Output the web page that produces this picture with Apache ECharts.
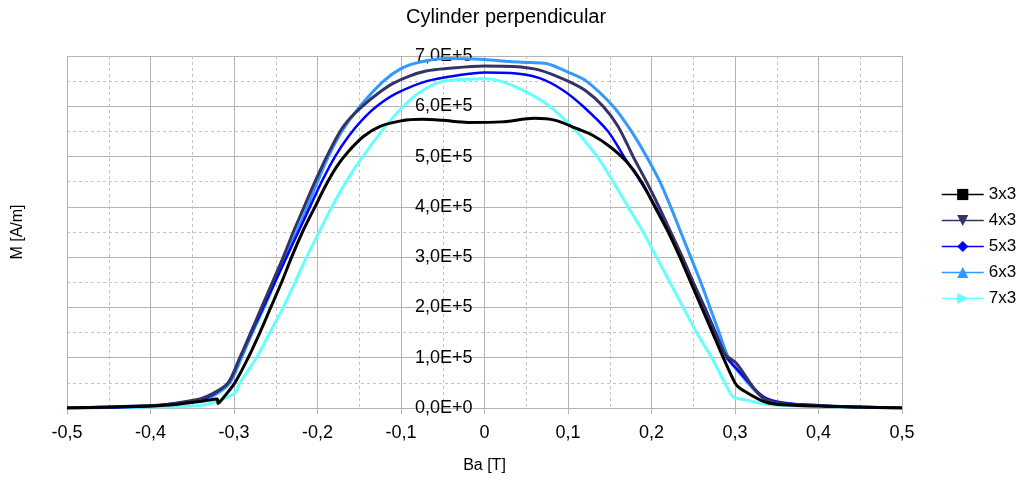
<!DOCTYPE html>
<html>
<head>
<meta charset="utf-8">
<script src="https://cdn.jsdelivr.net/npm/echarts@6/dist/echarts.min.js"></script>
<style>
html,body{margin:0;padding:0;background:#fff;}
#c{width:1024px;height:484px;}
</style>
</head>
<body>
<div id="c"></div>
<script>
// ---- data (Ba in T, M in A/m) ----
var seriesNames = ['3x3', '4x3', '5x3', '6x3', '7x3'];
var seriesColors = ['#000000', '#333366', '#0000ff', '#3399ff', '#66ffff'];

var ba3x3 = [-0.5,-0.45,-0.4,-0.37,-0.34,-0.32,-0.319,-0.313,-0.299,-0.283,-0.269,-0.256,-0.243,-0.231,-0.218,-0.203,-0.19,-0.177,-0.163,-0.145,-0.125,-0.1,-0.075,-0.05,-0.02,0.02,0.06,0.085,0.11,0.13,0.15,0.17,0.188,0.204,0.22,0.234,0.247,0.26,0.273,0.286,0.3,0.306,0.34,0.4,0.45,0.5];
var m3x3  = [0,0.02e5,0.04e5,0.07e5,0.13e5,0.18e5,0.09e5,0.2e5,0.5e5,1.0e5,1.5e5,2.0e5,2.5e5,3.0e5,3.5e5,4.0e5,4.43e5,4.8e5,5.1e5,5.4e5,5.6e5,5.71e5,5.74e5,5.72e5,5.68e5,5.69e5,5.76e5,5.72e5,5.56e5,5.42e5,5.2e5,4.9e5,4.5e5,4.0e5,3.5e5,3.0e5,2.5e5,2.0e5,1.5e5,1.0e5,0.5e5,0.39e5,0.1e5,0.04e5,0.02e5,0];

var ba4x3 = [-0.5,-0.45,-0.4,-0.381,-0.341,-0.325,-0.307,-0.293,-0.28,-0.267,-0.254,-0.241,-0.229,-0.216,-0.203,-0.189,-0.173,-0.16,-0.145,-0.128,-0.11,-0.09,-0.07,-0.045,0,0.034,0.066,0.1,0.122,0.142,0.16,0.178,0.194,0.209,0.223,0.237,0.25,0.263,0.276,0.289,0.301,0.338,0.4,0.45,0.5];
var m4x3  = [0,0.02e5,0.05e5,0.07e5,0.18e5,0.29e5,0.5e5,1.0e5,1.5e5,2.0e5,2.5e5,3.0e5,3.5e5,4.0e5,4.5e5,5.0e5,5.5e5,5.78e5,6.02e5,6.25e5,6.45e5,6.6e5,6.7e5,6.75e5,6.8e5,6.79e5,6.72e5,6.5e5,6.3e5,6.0e5,5.6e5,5.0e5,4.5e5,4.0e5,3.5e5,3.0e5,2.5e5,2.0e5,1.5e5,1.05e5,0.9e5,0.16e5,0.05e5,0.02e5,0];

var ba5x3 = [-0.5,-0.4,-0.341,-0.325,-0.307,-0.293,-0.279,-0.265,-0.251,-0.237,-0.223,-0.209,-0.195,-0.179,-0.163,-0.147,-0.129,-0.105,-0.069,-0.03,0,0.031,0.066,0.094,0.118,0.148,0.167,0.187,0.205,0.221,0.236,0.25,0.264,0.277,0.29,0.3,0.338,0.4,0.5];
var m5x3  = [0,0.04e5,0.17e5,0.27e5,0.5e5,1.0e5,1.5e5,2.0e5,2.5e5,3.0e5,3.5e5,4.0e5,4.5e5,5.0e5,5.4e5,5.72e5,6.0e5,6.26e5,6.5e5,6.62e5,6.67e5,6.66e5,6.56e5,6.32e5,6.0e5,5.5e5,5.0e5,4.5e5,4.0e5,3.5e5,3.0e5,2.5e5,2.0e5,1.5e5,1.0e5,0.82e5,0.19e5,0.05e5,0];

var ba6x3 = [-0.5,-0.4,-0.341,-0.323,-0.305,-0.291,-0.278,-0.264,-0.251,-0.238,-0.225,-0.212,-0.2,-0.187,-0.171,-0.149,-0.121,-0.1,-0.077,-0.045,0,0.03,0.055,0.074,0.1,0.122,0.154,0.176,0.194,0.21,0.223,0.235,0.247,0.259,0.27,0.281,0.292,0.304,0.34,0.4,0.5];
var m6x3  = [0,0.04e5,0.16e5,0.26e5,0.5e5,1.0e5,1.5e5,2.0e5,2.5e5,3.0e5,3.5e5,4.0e5,4.5e5,5.0e5,5.5e5,6.0e5,6.5e5,6.75e5,6.88e5,6.95e5,6.93e5,6.89e5,6.87e5,6.85e5,6.68e5,6.5e5,6.0e5,5.5e5,5.0e5,4.5e5,4.0e5,3.5e5,3.0e5,2.5e5,2.0e5,1.5e5,1.0e5,0.72e5,0.15e5,0.05e5,0];

var ba7x3 = [-0.5,-0.4,-0.341,-0.3,-0.293,-0.273,-0.257,-0.241,-0.227,-0.213,-0.201,-0.185,-0.17,-0.155,-0.137,-0.121,-0.1,-0.08,-0.053,-0.02,0,0.019,0.046,0.078,0.11,0.126,0.138,0.154,0.172,0.19,0.206,0.222,0.238,0.254,0.272,0.288,0.298,0.31,0.34,0.4,0.5];
var m7x3  = [0,0.02e5,0.05e5,0.28e5,0.5e5,1.0e5,1.5e5,2.0e5,2.5e5,3.0e5,3.4e5,3.93e5,4.38e5,4.78e5,5.2e5,5.55e5,5.95e5,6.25e5,6.48e5,6.54e5,6.55e5,6.5e5,6.32e5,6.0e5,5.5e5,5.19e5,4.93e5,4.5e5,4.0e5,3.5e5,3.0e5,2.5e5,2.0e5,1.5e5,1.0e5,0.5e5,0.22e5,0.17e5,0.07e5,0.03e5,0];

var xTickValues = [-0.5,-0.4,-0.3,-0.2,-0.1,0,0.1,0.2,0.3,0.4,0.5];
var xTickLabels = ['-0,5','-0,4','-0,3','-0,2','-0,1','0','0,1','0,2','0,3','0,4','0,5'];
var yTickValues = [0,1e5,2e5,3e5,4e5,5e5,6e5,7e5];
var yTickLabels = ['0,0E+0','1,0E+5','2,0E+5','3,0E+5','4,0E+5','5,0E+5','6,0E+5','7,0E+5'];

var baData = [ba3x3, ba4x3, ba5x3, ba6x3, ba7x3];
var mData = [m3x3, m4x3, m5x3, m6x3, m7x3];
var symbols = [
  'rect',
  'path://M0,0 L10,0 L5,10 Z',
  'diamond',
  'triangle',
  'path://M0,0 L10,5 L0,10 Z'
];
var widths = [3, 3, 2.5, 3, 3];

function zip(a, b) { var r = []; for (var i = 0; i < a.length; i++) r.push([a[i], b[i]]); return r; }
function labelFor(vals, labels, v) {
  for (var i = 0; i < vals.length; i++) if (Math.abs(vals[i] - v) < 1e-6 * Math.max(1, Math.abs(vals[i]))) return labels[i];
  return '';
}

var series = [];
for (var i = seriesNames.length - 1; i >= 0; i--) {
  series.push({
    name: seriesNames[i],
    type: 'line',
    data: zip(baData[i], mData[i]),
    symbol: symbols[i],
    symbolSize: 9,
    showSymbol: false,
    smooth: 0.3,
    color: seriesColors[i],
    lineStyle: { width: widths[i], color: seriesColors[i] },
    itemStyle: { color: seriesColors[i] },
    z: 10 - i,
    animation: false
  });
}

var chart = echarts.init(document.getElementById('c'), null, { renderer: 'canvas' });
chart.setOption({
  backgroundColor: '#ffffff',
  animation: false,
  textStyle: { fontFamily: 'Liberation Sans, Arial, sans-serif' },
  title: {
    text: 'Cylinder perpendicular',
    left: 401, top: 2,
    textStyle: { fontSize: 20, fontWeight: 'normal', color: '#000', fontFamily: 'Liberation Sans, Arial, sans-serif' }
  },
  legend: {
    data: seriesNames,
    orient: 'vertical',
    left: 936, top: 181,
    itemWidth: 42, itemHeight: 14, itemGap: 9,
    textStyle: { fontSize: 17, color: '#000' },
    lineStyle: { width: 1.5 }
  },
  grid: { left: 67, right: 122, top: 56, bottom: 76, containLabel: false, outerBoundsMode: 'none' },
  xAxis: {
    type: 'value', min: -0.5, max: 0.5, interval: 0.1,
    name: 'Ba [T]', nameLocation: 'middle', nameGap: 50,
    nameTextStyle: { fontSize: 16, color: '#000' },
    axisLine: { show: true, onZero: false, lineStyle: { color: '#b3b3b3', width: 1 } },
    axisTick: { show: true, inside: false, length: 6, lineStyle: { color: '#b3b3b3' } },
    axisLabel: { fontSize: 18, color: '#000', margin: 16,
      formatter: function (v) { return labelFor(xTickValues, xTickLabels, v); } },
    splitLine: { show: true, lineStyle: { color: '#b3b3b3', width: 1 } },
    minorTick: { show: false, splitNumber: 2 },
    minorSplitLine: { show: true, lineStyle: { color: '#c4c4c4', width: 1, type: [3, 3] } }
  },
  yAxis: {
    type: 'value', min: 0, max: 7e5, interval: 1e5,
    offset: -417.5,
    name: 'M [A/m]', nameLocation: 'middle', nameGap: 459, nameRotate: 90,
    nameTextStyle: { fontSize: 16, color: '#000' },
    axisLine: { show: true, onZero: false, lineStyle: { color: '#b3b3b3', width: 1 } },
    axisTick: { show: true, inside: false, length: 6, lineStyle: { color: '#b3b3b3' } },
    axisLabel: { fontSize: 18, color: '#000', margin: 12,
      formatter: function (v) { return labelFor(yTickValues, yTickLabels, v); } },
    splitLine: { show: true, lineStyle: { color: '#b3b3b3', width: 1 } },
    minorTick: { show: false, splitNumber: 2 },
    minorSplitLine: { show: true, lineStyle: { color: '#c4c4c4', width: 1, type: [3, 3] } }
  },
  series: series
});
</script>
</body>
</html>
